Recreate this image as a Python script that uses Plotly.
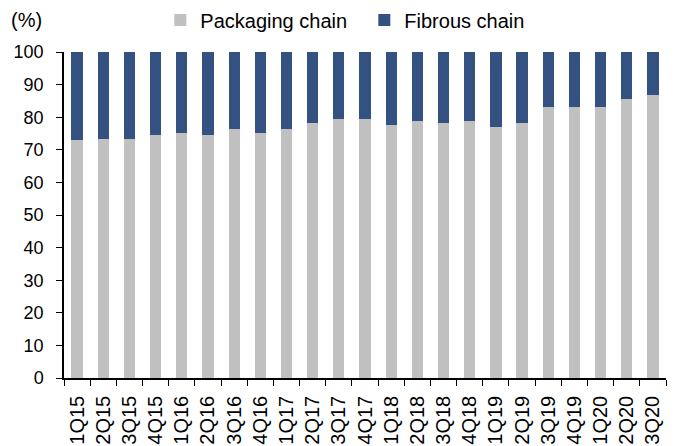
import plotly.graph_objects as go

categories = ["1Q15","2Q15","3Q15","4Q15","1Q16","2Q16","3Q16","4Q16","1Q17","2Q17","3Q17","4Q17",
              "1Q18","2Q18","3Q18","4Q18","1Q19","2Q19","3Q19","4Q19","1Q20","2Q20","3Q20"]
packaging = [72.9,73.4,73.4,74.6,75.2,74.6,76.4,75.2,76.4,78.2,79.5,79.5,
             77.7,78.9,78.2,78.9,77.0,78.2,83.1,83.1,83.1,85.5,86.8]
fibrous = [round(100 - p, 1) for p in packaging]
y_ticks = list(range(0, 101, 10))

font = "Liberation Sans, Arial, sans-serif"

fig = go.Figure()
fig.add_trace(go.Bar(x=categories, y=packaging, name="Packaging chain",
                     marker=dict(color="#C0C0C0", line=dict(width=0))))
fig.add_trace(go.Bar(x=categories, y=fibrous, name="Fibrous chain",
                     marker=dict(color="#335281", line=dict(width=0))))

fig.update_layout(
    barmode="stack",
    bargap=0.57,
    width=676, height=446,
    margin=dict(l=64, r=10, t=52, b=68, autoexpand=False),
    paper_bgcolor="white", plot_bgcolor="white",
    font=dict(family=font, size=18, color="#000000"),
    showlegend=True,
    legend=dict(orientation="h", x=0.16, xanchor="left", y=1.098, yref="paper",
                yanchor="middle", font=dict(size=20), itemwidth=30,
                entrywidth=159, entrywidthmode="pixels",
                traceorder="normal", itemsizing="constant", tracegroupgap=0,
                bgcolor="rgba(0,0,0,0)"),
)
fig.add_annotation(text="(%)", xref="paper", yref="paper", x=-0.092, y=1.098,
                   xanchor="left", yanchor="middle", showarrow=False, font=dict(size=20))

fig.update_xaxes(showline=True, linecolor="black", linewidth=1.5, ticks="outside",
                 tickson="boundaries", ticklen=6, tickcolor="black", tickangle=-90,
                 tickfont=dict(size=20), ticklabelstandoff=8, showgrid=False)
fig.update_yaxes(range=[0, 100], tickvals=y_ticks, showline=True, linecolor="black",
                 linewidth=1.5, ticks="outside", ticklen=6, tickcolor="black",
                 showgrid=False, zeroline=False, tickfont=dict(size=18),
                 ticklabelstandoff=9)

fig.write_html("out.html")
